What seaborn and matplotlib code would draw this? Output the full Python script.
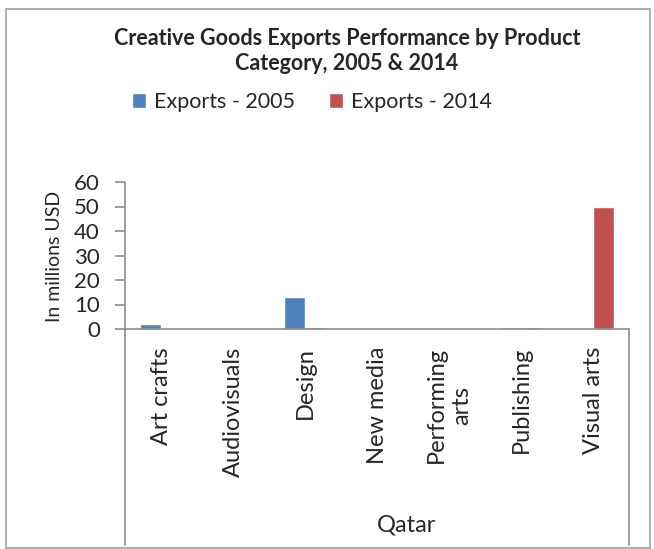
import matplotlib.pyplot as plt
import matplotlib.lines as mlines
import matplotlib.patches as mpatches
import seaborn as sns
import pandas as pd

# data (millions USD)
categories = ['Art crafts', 'Audiovisuals', 'Design', 'New media',
              'Performing arts', 'Publishing', 'Visual arts']
tick_labels = ['Art crafts', 'Audiovisuals', 'Design', 'New media',
               'Performing\narts', 'Publishing', 'Visual arts']
exports_2005 = [2, 0, 13, 0, 0, 1, 0]
exports_2014 = [0, 0, 1, 0, 0, 1, 50]
series = ['Exports - 2005', 'Exports - 2014']
colors = ['#4F81BD', '#C0504D']

df = pd.DataFrame({
    'Category': categories * 2,
    'Series': [series[0]] * len(categories) + [series[1]] * len(categories),
    'Value': exports_2005 + exports_2014,
})

sns.set_style('white')
plt.rcParams['font.family'] = ['Lato', 'DejaVu Sans']

W, H = 654, 549
fig = plt.figure(figsize=(W / 100, H / 100), dpi=100)

def fx(px):
    return px / W

def fy(py):
    return 1 - py / H

ax_l, ax_r, ax_t, ax_b = 125, 629, 182, 329
ax = fig.add_axes([fx(ax_l), fy(ax_b), fx(ax_r - ax_l), fy(ax_t) - fy(ax_b)])

sns.barplot(data=df, x='Category', y='Value', hue='Series', order=categories,
            hue_order=series, palette=colors, width=0.58, saturation=1,
            ax=ax, legend=True)

grey = '#8C8C8C'
ax.set_ylim(0, 60)
ax.set_yticks(range(0, 61, 10))
ax.tick_params(axis='y', labelsize=16, length=7, width=1.2, color=grey,
               direction='out', left=True, pad=11)
ax.set_xticks(range(len(categories)))
ax.set_xticklabels(tick_labels, rotation=90, fontsize=17, va='top',
                   ha='center', linespacing=1.3)
ax.tick_params(axis='x', length=0, pad=13)
ax.set_xlabel('')
ax.set_ylabel('')
for s in ['top', 'right']:
    ax.spines[s].set_visible(False)
ax.spines['bottom'].set_color(grey)
ax.spines['bottom'].set_linewidth(1.2)
ax.spines['left'].set_visible(False)
ax.set_facecolor('none')

handles, labels = ax.get_legend_handles_labels()
ax.get_legend().remove()

fig.text(fx(55), fy(256), 'In millions USD', fontsize=14, rotation=90,
         ha='center', va='center')

# multi-level category axis lines
fig.add_artist(mlines.Line2D([fx(ax_l), fx(ax_l)], [fy(ax_t), fy(545)],
                             color=grey, lw=1.2))
fig.add_artist(mlines.Line2D([fx(ax_r), fx(ax_r)], [fy(ax_b), fy(545)],
                             color=grey, lw=1.2))
fig.text(fx(407), fy(525), 'Qatar', fontsize=17, ha='center', va='center')

# outer chart border
fig.add_artist(mpatches.Rectangle((fx(6), fy(548)), fx(644), fy(9) - fy(548),
                                  fill=False, edgecolor='#A0A0A0', lw=1.2))

fig.text(fx(347), fy(51), 'Creative Goods Exports Performance by Product\nCategory, 2005 & 2014',
         fontsize=15.5, fontweight='bold', ha='center', va='center', linespacing=1.2)

fig.legend(handles, labels, loc='center', bbox_to_anchor=(fx(312), fy(102)),
           ncol=2, frameon=False, fontsize=15.5, handlelength=0.65, handleheight=0.65,
           handletextpad=0.35, columnspacing=1.6)

fig.savefig('out.png', dpi=100)
